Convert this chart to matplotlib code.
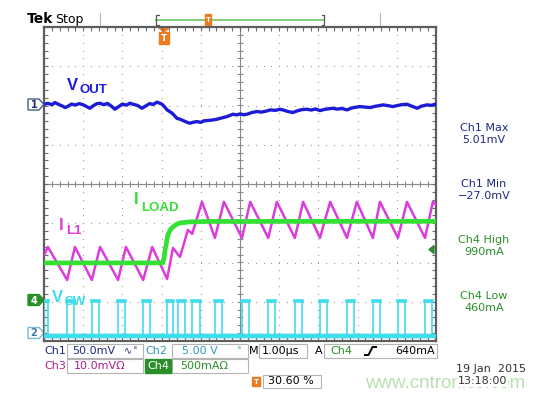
import numpy as np
import matplotlib.pyplot as plt
from matplotlib.patches import Rectangle, Polygon
from matplotlib.ticker import MultipleLocator

# ---------------------------
# Data (time axis in us, 1.00 us/div, 10 div)
# ---------------------------
# Ch1 - VOUT (mV, 50 mV/div)
vout_t = [0.00, 0.10, 0.20, 0.28, 0.38, 0.46, 0.54, 0.62, 0.70, 0.80, 0.90, 1.00,
          1.08, 1.17, 1.25, 1.34, 1.43, 1.52, 1.62, 1.72, 1.81, 1.90, 2.00, 2.10,
          2.19, 2.28, 2.38, 2.50, 2.60, 2.70, 2.78, 2.88, 2.96, 3.01, 3.08, 3.14,
          3.20, 3.27, 3.33, 3.39, 3.47, 3.55, 3.63, 3.72, 3.80, 3.90, 4.00, 4.08,
          4.16, 4.28, 4.41, 4.52, 4.67, 4.75, 4.82, 4.92, 5.00, 5.10, 5.18, 5.30,
          5.43, 5.55, 5.69, 5.77, 5.90, 6.02, 6.12, 6.22, 6.35, 6.45, 6.58, 6.71,
          6.82, 6.93, 7.04, 7.15, 7.26, 7.37, 7.48, 7.60, 7.73, 7.85, 7.95, 8.06,
          8.18, 8.32, 8.45, 8.55, 8.65, 8.78, 8.90, 9.00, 9.12, 9.26, 9.38, 9.52,
          9.62, 9.77, 9.88, 10.00]
vout_mv = [1.5, 2.8, 1.0, 3.7, 1.2, -0.5, -2.6, -0.8, 1.8, 0.6, 2.4, 0.9,
           -1.2, -3.5, -0.6, 2.2, 2.9, 1.0, 2.6, -0.9, -4.8, -1.5, 1.8, 0.4,
           2.9, 1.5, 0.2, -3.5, -0.4, 2.5, 1.2, 4.2, 2.8, 1.6, -2.0, -5.6,
           -7.5, -9.9, -13.0, -16.3, -17.5, -19.2, -21.0, -22.6, -21.4, -20.5, -21.5, -19.5,
           -19.2, -18.6, -17.5, -16.0, -14.1, -12.5, -11.1, -12.0, -10.7, -11.8, -11.1, -9.0,
           -7.7, -8.4, -6.9, -5.6, -6.2, -4.8, -6.0, -7.6, -9.0, -7.0, -5.2, -4.8,
           -5.8, -4.4, -6.5, -5.0, -4.2, -3.5, -4.6, -3.8, -5.6, -3.2, -2.2, -1.4,
           -2.0, -2.6, -1.0, -0.2, 0.8, -0.2, -1.4, -0.2, 1.0, 1.6, -0.8, -3.5,
           -1.0, 0.8, 0.2, 2.0]

# Ch4 - ILOAD (mA, 500 mA/div)
iload_t = [0.00, 3.03, 3.06, 3.09, 3.13, 3.16, 3.22, 3.29, 3.38, 3.47, 3.72, 4.20, 10.00]
iload_ma = [460, 460, 520, 625, 730, 817, 880, 919, 950, 970, 982, 988, 990]

# Ch3 - IL1 inductor current (shown on the same mA scale)
il1_t = [0.00, 0.10, 0.59, 0.79, 1.22, 1.43, 1.89, 2.09, 2.53, 2.76, 3.14, 3.29,
         3.47, 3.67, 3.78, 4.03, 4.36, 4.59, 5.05, 5.26, 5.72, 5.94, 6.40, 6.61,
         7.04, 7.30, 7.73, 7.98, 8.39, 8.57, 9.03, 9.26, 9.72, 9.92, 10.00]
il1_ma = [560, 663, 242, 663, 242, 663, 242, 663, 242, 663, 255, 650,
          536, 880, 830, 1238, 778, 1238, 778, 1238, 778, 1238, 778, 1238,
          778, 1238, 778, 1238, 778, 1238, 778, 1238, 778, 1238, 1200]

# Ch2 - VSW switch node (V, 5 V/div): pulse edges in us
vsw_on = [0.00, 0.59, 1.22, 1.89, 2.53, 3.14, 3.42, 3.78, 4.36, 5.05, 5.72,
          6.40, 7.04, 7.73, 8.39, 9.03, 9.72]
vsw_off = [0.10, 0.77, 1.40, 2.07, 2.71, 3.29, 3.60, 3.97, 4.55, 5.23, 5.90,
           6.58, 7.22, 7.91, 8.57, 9.21, 9.90]
vsw_high = 4.1
vsw_low = -0.3

meas_names = ["Ch1 Max", "Ch1 Min", "Ch4 High", "Ch4 Low"]
meas_values = ["5.01mV", "\u221227.0mV", "990mA", "460mA"]

# channel scale / position (div)
CH1_SCALE, CH1_POS = 50.0, 2.0
CH2_SCALE, CH2_POS = 5.0, -3.80
CH4_SCALE, CH4_POS = 500.0, -2.93

C_CH1 = "#1c1cd8"
C_CH2 = "#3fdcec"
C_CH3 = "#dc3cdc"
C_CH4 = "#35e035"
C_NAVY = "#1f2a80"
C_GREEN = "#2a8f2a"
C_ORANGE = "#f07a1e"
GRID = "#9a9a9a"

plt.rcParams["font.family"] = ["DejaVu Sans"]

fig = plt.figure(figsize=(5.48, 3.93), dpi=100)
fig.patch.set_facecolor("white")

# overlay in pixel coordinates for the scope chrome
ov = fig.add_axes([0, 0, 1, 1])
ov.set_xlim(0, 548)
ov.set_ylim(393, 0)
ov.axis("off")

# ---------------------------
# Graticule
# ---------------------------
L, R, T, B = 44, 436, 27, 341
ax = fig.add_axes([L / 548, 1 - B / 393, (R - L) / 548, (B - T) / 393])
ax.set_xlim(0, 10)
ax.set_ylim(-4, 4)
ax.set_facecolor("none")
for s in ax.spines.values():
    s.set_color("#5e5e5e")
    s.set_linewidth(1.6)
ax.xaxis.set_major_locator(MultipleLocator(1))
ax.yaxis.set_major_locator(MultipleLocator(1))
ax.xaxis.set_minor_locator(MultipleLocator(0.2))
ax.yaxis.set_minor_locator(MultipleLocator(0.2))
ax.tick_params(which="both", direction="in", length=3, width=0.8, color="#6a6a6a",
               top=True, right=True, labelbottom=False, labelleft=False)

# dotted grid lines
dots = np.arange(0, 10.01, 0.2)
for gx in [1, 2, 3, 4, 6, 7, 8, 9]:
    ax.scatter(np.full(41, gx), np.arange(-4, 4.01, 0.2), s=0.8, color=GRID, lw=0, zorder=1)
for gy in [-3, -2, -1, 1, 2, 3]:
    ax.scatter(dots, np.full(len(dots), gy), s=0.8, color=GRID, lw=0, zorder=1)
# center cross with ticks
ax.axhline(0, color="#8a8a8a", lw=0.8, zorder=1)
ax.axvline(5, color="#8a8a8a", lw=0.8, zorder=1)
ax.vlines(dots, -0.07, 0.07, color="#8a8a8a", lw=0.8, zorder=1)
ax.hlines(np.arange(-4, 4.01, 0.2), 4.93, 5.07, color="#8a8a8a", lw=0.8, zorder=1)

# ---------------------------
# Traces
# ---------------------------
vsw_x, vsw_y = [], []
for on, off in zip(vsw_on, vsw_off):
    if not vsw_x:
        if on > 0:
            vsw_x.append(0)
            vsw_y.append(vsw_low)
    vsw_x += [on, on, off, off]
    vsw_y += [vsw_low, vsw_high, vsw_high, vsw_low]
vsw_x.append(10)
vsw_y.append(vsw_low)
vsw_pos = CH2_POS + np.array(vsw_y) / CH2_SCALE
ax.plot(vsw_x, vsw_pos, color=C_CH2, lw=1.2, zorder=3)
for on, off in zip(vsw_on, vsw_off):
    ax.plot([on, off], [CH2_POS + vsw_high / CH2_SCALE] * 2, color=C_CH2, lw=2.6, zorder=3)
lows = [0] + list(vsw_off)
for a, b in zip(lows, vsw_on[1:] + [10]):
    if b > a:
        ax.plot([a, b], [CH2_POS + vsw_low / CH2_SCALE] * 2, color=C_CH2, lw=3.2, zorder=3)

ax.plot(il1_t, CH4_POS + np.array(il1_ma) / CH4_SCALE, color=C_CH3, lw=1.8, zorder=4)
ax.plot(iload_t, CH4_POS + np.array(iload_ma) / CH4_SCALE, color=C_CH4, lw=3.4, zorder=5)
ax.plot(vout_t, CH1_POS + np.array(vout_mv) / CH1_SCALE, color=C_CH1, lw=2.4, zorder=6)

# trace labels
lab = dict(va="center", ha="left", family="Liberation Sans", fontweight="bold")
ov.text(67, 86, "V", color=C_CH1, fontsize=12, **lab)
ov.text(80, 90, "OUT", color=C_CH1, fontsize=9.5, **lab)
ov.text(59, 225, "I", color=C_CH3, fontsize=12, **lab)
ov.text(66, 231, "L1", color=C_CH3, fontsize=9.5, **lab)
ov.text(134, 200, "I", color=C_CH4, fontsize=12, **lab)
ov.text(141, 208, "LOAD", color=C_CH4, fontsize=9.5, **lab)
ov.text(52, 297, "V", color=C_CH2, fontsize=12, **lab)
ov.text(65, 302, "SW", color=C_CH2, fontsize=9.5, **lab)

# channel ground markers
def marker(y, label, face, edge, tcol):
    ov.add_patch(Polygon([(28, y - 5.5), (39, y - 5.5), (44, y), (39, y + 5.5), (28, y + 5.5)],
                         closed=True, facecolor=face, edgecolor=edge, lw=1.0, zorder=5))
    ov.text(34, y + 0.5, label, color=tcol, fontsize=7, ha="center", va="center",
            fontweight="bold", zorder=6)

marker(104.5, "1", "white", "#4a5a8a", C_NAVY)
marker(300, "4", C_GREEN, C_GREEN, "white")
marker(333, "2", "white", "#7ab8d8", "#3a7aa0")

# trigger level arrow (Ch4, 640 mA)
ov.add_patch(Polygon([(429, 249.5), (434, 245.5), (434, 253.5)], closed=True,
                     color=C_GREEN, zorder=6))

# trigger position marker
ov.add_patch(Polygon([(159, 28), (169, 28), (164, 32)], closed=True, color=C_ORANGE, zorder=6))
ov.add_patch(Rectangle((159, 32), 10, 12, color=C_ORANGE, zorder=6))
ov.text(164, 38.5, "T", color="white", fontsize=6.5, fontweight="bold", ha="center",
        va="center", zorder=7)

# ---------------------------
# Top status bar
# ---------------------------
ov.text(27, 19, "Tek", fontsize=10, fontweight="bold", va="center", ha="left")
ov.text(55, 19, "Stop", fontsize=9, va="center", ha="left")
for xx in [100, 380]:
    ov.plot([xx, xx], [13, 26], color="#b8b8b8", lw=0.8)
ov.plot([156, 324], [20, 20], color="#6cc86c", lw=1.2)
for xx, d in [(156, 2.5), (324, -2.5)]:
    ov.plot([xx + d, xx, xx, xx + d], [15, 15, 25, 25], color="#555555", lw=0.9)
ov.add_patch(Rectangle((205, 14), 6, 11, color=C_ORANGE, zorder=6))
ov.text(208, 20, "T", color="white", fontsize=5, fontweight="bold", ha="center", va="center",
        zorder=7)

# ---------------------------
# Measurements (right side)
# ---------------------------
meas_y = [128, 184, 240, 296]
meas_col = [C_NAVY, C_NAVY, C_GREEN, C_GREEN]
for name, val, yy, cc in zip(meas_names, meas_values, meas_y, meas_col):
    ov.text(484, yy, name, color=cc, fontsize=8, ha="center", va="center")
    ov.text(484, yy + 12, val, color=cc, fontsize=8, ha="center", va="center")

# ---------------------------
# Bottom readout
# ---------------------------
def box(x0, x1, y0, y1):
    ov.add_patch(Rectangle((x0, y0), x1 - x0, y1 - y0, fill=False, edgecolor="#b4b4b4", lw=0.8))

box(67, 143, 344, 358)
box(172, 248, 344, 358)
box(259, 307, 344, 358)
box(324, 437, 344, 358)
box(67, 143, 359, 373)
box(172, 248, 359, 373)
box(263, 321, 375, 388)

ov.text(44, 351, "Ch1", color=C_NAVY, fontsize=8, va="center")
ov.text(72, 351, "50.0mV", color=C_NAVY, fontsize=8, va="center")
ov.text(124, 351, "\u223f", color=C_NAVY, fontsize=7, va="center")
ov.text(134, 350, "\u1d2e", color=C_NAVY, fontsize=5, va="center")
ov.text(145, 351, "Ch2", color="#2a9ab4", fontsize=8, va="center")
ov.text(182, 351, "5.00 V", color="#2a9ab4", fontsize=8, va="center")
ov.text(238, 350, "\u1d2e", color="#2a9ab4", fontsize=5, va="center")
ov.text(249, 351, "M", color="black", fontsize=8, va="center")
ov.text(262, 351, "1.00\u00b5s", color="black", fontsize=8, va="center")
ov.text(315, 351, "A", color="black", fontsize=8, va="center")
ov.text(330, 351, "Ch4", color=C_GREEN, fontsize=8, va="center")
ov.plot([365, 368.5, 372.5, 376], [355, 355, 347, 347], color="black", lw=1.4)
ov.text(435, 351, "640mA", color="black", fontsize=8, va="center", ha="right")

ov.text(44, 366, "Ch3", color="#a8208e", fontsize=8, va="center")
ov.text(74, 366, "10.0mV\u03a9", color="#a8208e", fontsize=8, va="center")
ov.add_patch(Rectangle((145, 359), 26, 14, color=C_GREEN))
ov.text(158, 366, "Ch4", color="white", fontsize=8, va="center", ha="center")
ov.text(180, 366, "500mA\u03a9", color=C_GREEN, fontsize=8, va="center")

ov.add_patch(Rectangle((252, 377), 8, 9, color=C_ORANGE))
ov.text(256, 381.5, "T", color="white", fontsize=5, fontweight="bold", ha="center", va="center")
ov.text(268, 381.5, "30.60 %", color="black", fontsize=8, va="center")

# watermark + date
ov.text(365, 383, "www.cntronics.com", color="#b8e0b0", fontsize=13.5, va="center",
        family="Liberation Sans")
ov.text(526, 369, "19 Jan  2015", color="#333333", fontsize=8, va="center", ha="right")
ov.text(458, 381, "13:18:00", color="#333333", fontsize=8, va="center", ha="left",
        bbox=dict(facecolor="white", edgecolor="none", pad=0.5))

fig.savefig("out.png", dpi=100, facecolor="white")
